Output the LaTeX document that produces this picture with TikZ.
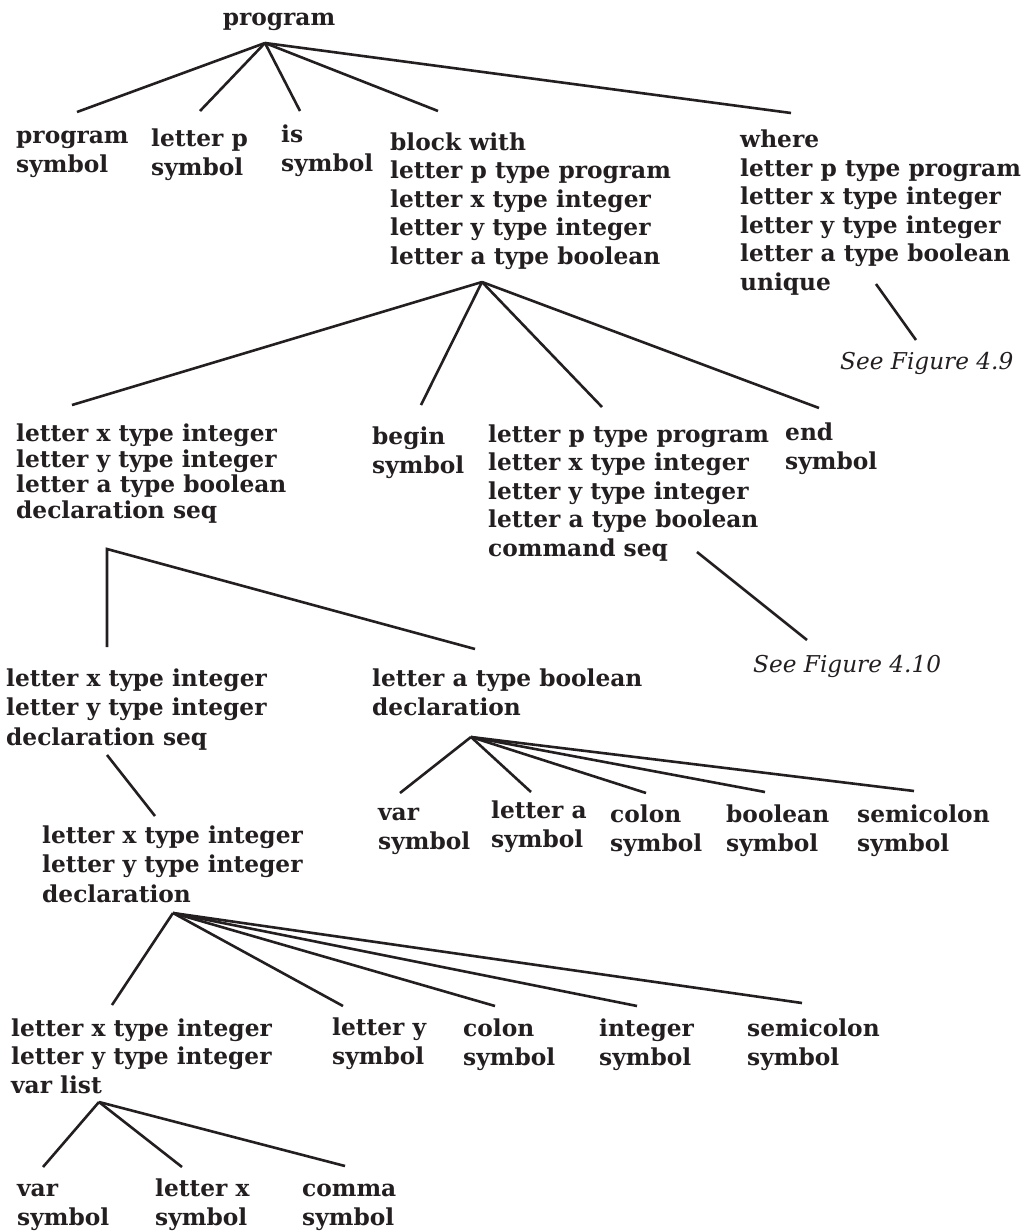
\documentclass[tikz,border=0pt]{standalone}
\usepackage{fontspec}
\setmainfont{DejaVu Serif}
\newfontfamily\treefont{DejaVu Serif}
\definecolor{ink}{HTML}{231F20}
\begin{document}
\begin{tikzpicture}[x=1pt,y=-1pt,
  lbl/.style={anchor=base west,align=left,inner sep=0pt,text=ink,
    font=\treefont\bfseries\fontsize{23.3}{28.5}\selectfont},
  tight/.style={font=\treefont\bfseries\fontsize{23.3}{25.5}\selectfont},
  loose/.style={font=\treefont\bfseries\fontsize{23.3}{29.5}\selectfont},
  note/.style={anchor=base west,inner sep=0pt,text=ink,
    font=\treefont\itshape\fontsize{23.2}{26}\selectfont},
  edge/.style={draw=ink,line width=2.6pt}]
\useasboundingbox (0,0) rectangle (1035,1232);
\fill[white] (0,0) rectangle (1035,1232);
% level 0 (positions give the baseline of the last line)
\node[lbl,anchor=base] (root) at (279,25) {program};
% level 1
\node[lbl] (progsym) at (16,172) {program\\symbol};
\node[lbl] (psym) at (151,175) {letter p\\symbol};
\node[lbl] (issym) at (281,171) {is\\symbol};
\node[lbl] (block) at (390,264) {block with\\letter p type program\\letter x type integer\\letter y type integer\\letter a type boolean};
\node[lbl] (where) at (740,290) {where\\letter p type program\\letter x type integer\\letter y type integer\\letter a type boolean\\unique};
\node[note] (sf9) at (840,369) {See Figure 4.9};
% level 2
\node[lbl,tight] (dseq) at (16,518) {letter x type integer\\letter y type integer\\letter a type boolean\\declaration seq};
\node[lbl] (begin) at (372,473) {begin\\symbol};
\node[lbl] (cseq) at (488,556) {letter p type program\\letter x type integer\\letter y type integer\\letter a type boolean\\command seq};
\node[lbl] (endsym) at (785,469) {end\\symbol};
\node[note] (sf10) at (753,672) {See Figure 4.10};
% level 3
\node[lbl,loose] (xydseq) at (6,745) {letter x type integer\\letter y type integer\\declaration seq};
\node[lbl] (adecl) at (372,715) {letter a type boolean\\declaration};
% level 3b
\node[lbl] (avar) at (378,849) {var\\symbol};
\node[lbl] (aa) at (491,847) {letter a\\symbol};
\node[lbl] (acolon) at (610,851) {colon\\symbol};
\node[lbl] (abool) at (726,851) {boolean\\symbol};
\node[lbl] (asemi) at (857,851) {semicolon\\symbol};
% level 4
\node[lbl,loose] (xydecl) at (42,902) {letter x type integer\\letter y type integer\\declaration};
% level 5
\node[lbl] (vlist) at (11,1093) {letter x type integer\\letter y type integer\\var list};
\node[lbl] (ysym) at (332,1064) {letter y\\symbol};
\node[lbl] (colon) at (463,1065) {colon\\symbol};
\node[lbl] (intsym) at (599,1065) {integer\\symbol};
\node[lbl] (semi) at (747,1065) {semicolon\\symbol};
% level 6
\node[lbl] (var) at (17,1225) {var\\symbol};
\node[lbl] (xsym) at (155,1225) {letter x\\symbol};
\node[lbl] (comma) at (302,1225) {comma\\symbol};

% connector coordinates
\coordinate (root-a) at (265,43);
\coordinate (progsym-t) at (77,112);
\coordinate (psym-t) at (200,111);
\coordinate (issym-t) at (300,111);
\coordinate (block-t) at (438,111);
\coordinate (where-t) at (791,113);
\coordinate (block-a) at (482,282);
\coordinate (dseq-t) at (72,405);
\coordinate (begin-t) at (421,405);
\coordinate (cseq-t) at (602,407);
\coordinate (endsym-t) at (819,408);
\coordinate (where-a) at (876,284);
\coordinate (sf9-t) at (916,340);
\coordinate (cseq-a) at (697,552);
\coordinate (sf10-t) at (807,640);
\coordinate (dseq-a) at (107,549);
\coordinate (xydseq-t) at (107,647);
\coordinate (adecl-t) at (475,649);
\coordinate (xydseq-a) at (107,755);
\coordinate (xydecl-t) at (155,816);
\coordinate (adecl-a) at (471,737);
\coordinate (avar-t) at (400,793);
\coordinate (aa-t) at (531,792);
\coordinate (acolon-t) at (646,793);
\coordinate (abool-t) at (765,792);
\coordinate (asemi-t) at (914,791);
\coordinate (xydecl-a) at (173,913);
\coordinate (vlist-t) at (112,1005);
\coordinate (ysym-t) at (343,1006);
\coordinate (colon-t) at (495,1006);
\coordinate (intsym-t) at (637,1006);
\coordinate (semi-t) at (802,1003);
\coordinate (vlist-a) at (99,1102);
\coordinate (var-t) at (43,1167);
\coordinate (xsym-t) at (182,1167);
\coordinate (comma-t) at (345,1166);

\foreach \c in {progsym,psym,issym,block,where} \draw[edge] (root-a) -- (\c-t);
\foreach \c in {dseq,begin,cseq,endsym} \draw[edge] (block-a) -- (\c-t);
\draw[edge] (where-a) -- (sf9-t);
\draw[edge] (cseq-a) -- (sf10-t);
\draw[edge] (xydseq-t) -- (dseq-a) -- (adecl-t);
\draw[edge] (xydseq-a) -- (xydecl-t);
\foreach \c in {avar,aa,acolon,abool,asemi} \draw[edge] (adecl-a) -- (\c-t);
\foreach \c in {vlist,ysym,colon,intsym,semi} \draw[edge] (xydecl-a) -- (\c-t);
\foreach \c in {var,xsym,comma} \draw[edge] (vlist-a) -- (\c-t);
\end{tikzpicture}
\end{document}
